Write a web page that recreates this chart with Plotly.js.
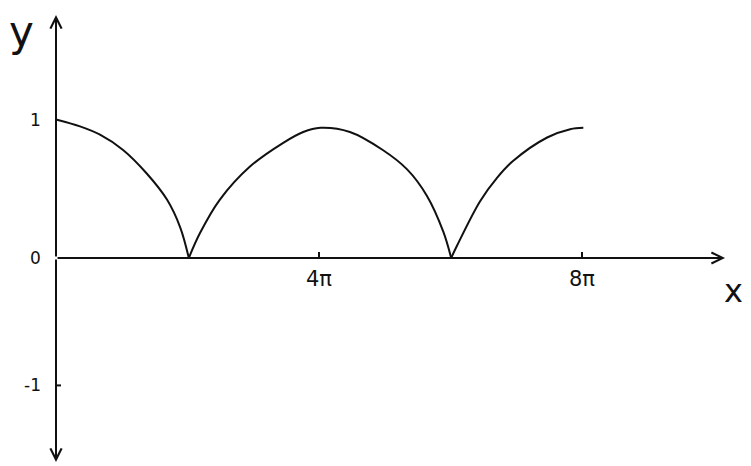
<!DOCTYPE html>
<html>
<head>
<meta charset="utf-8">
<script src="https://cdn.plot.ly/plotly-3.0.1.min.js"></script>
<style>html,body{margin:0;padding:0;background:#fff;}#chart{width:751px;height:466px;}</style>
</head>
<body>
<div id="chart"></div>
<script>
// x values in multiples of pi
var arch1X = [0, 0.365, 0.669, 1.02, 1.38, 1.69, 1.89, 2.02];
var arch1Y = [1.0, 0.95, 0.89, 0.78, 0.61, 0.42, 0.22, 0.0];
var arch2X = [2.02, 2.19, 2.49, 2.95, 3.45, 3.76, 4.02, 4.47, 4.97, 5.34, 5.64, 5.89, 6.01];
var arch2Y = [0.0, 0.18, 0.42, 0.66, 0.83, 0.91, 0.94, 0.91, 0.78, 0.64, 0.45, 0.19, 0.0];
var arch3X = [6.01, 6.10, 6.45, 6.71, 6.95, 7.47, 7.82, 8.02];
var arch3Y = [0.0, 0.09, 0.41, 0.58, 0.70, 0.87, 0.93, 0.94];

var xTickVals = [4, 8];
var xTickText = ['4π', '8π'];
var yTickVals = [1, 0, -0.92];
var yTickText = ['1', '0', '-1'];

var xEnd = 10.175, yTop = 1.755, yBottom = -1.473;

var ink = '#111';
var lineStyle = {color: ink, width: 2, shape: 'spline', smoothing: 1};
var traces = [[arch1X, arch1Y], [arch2X, arch2Y], [arch3X, arch3Y]].map(function (a) {
  return {x: a[0], y: a[1], mode: 'lines', line: lineStyle, hoverinfo: 'skip', showlegend: false};
});

var fam = 'DejaVu Sans';
var annotations = [];
function axisArrow(x, y) {
  return {x: x, y: y, ax: 0, ay: 0, axref: 'x', ayref: 'y', xref: 'x', yref: 'y', text: '', showarrow: true,
          arrowhead: 5, arrowsize: 1.1, arrowwidth: 2, arrowcolor: ink};
}
annotations.push(axisArrow(xEnd, 0));
annotations.push(axisArrow(0, yTop));
annotations.push(axisArrow(0, yBottom));

xTickVals.forEach(function (v, i) {
  annotations.push({x: v, y: 0, xref: 'x', yref: 'y', text: xTickText[i], showarrow: false, yanchor: 'top', yshift: -7,
                    font: {family: fam, color: ink, size: 21}});
});
yTickVals.forEach(function (v, i) {
  annotations.push({x: 0, y: v, xref: 'x', yref: 'y', text: yTickText[i], showarrow: false, xanchor: 'right', xshift: -13,
                    font: {family: fam, color: ink, size: 17}});
});
annotations.push({x: 0, y: yTop, xref: 'x', yref: 'y', text: 'y', showarrow: false, xanchor: 'right', yanchor: 'top', xshift: -20, yshift: 10,
                  font: {family: fam, color: ink, size: 42}});
annotations.push({x: xEnd, y: 0, xref: 'x', yref: 'y', text: 'x', showarrow: false, xanchor: 'center', yanchor: 'top', xshift: 8, yshift: -12,
                  font: {family: fam, color: ink, size: 32}});

var shapes = [];
xTickVals.forEach(function (v) {
  shapes.push({type: 'line', xref: 'x', yref: 'y', x0: v, x1: v, ysizemode: 'pixel', yanchor: 0, y0: 0, y1: 6, line: {color: ink, width: 2}});
});
shapes.push({type: 'line', xref: 'x', yref: 'y', xsizemode: 'pixel', xanchor: 0, x0: 0, x1: 5, y0: yTickVals[2], y1: yTickVals[2], line: {color: ink, width: 2}});

var layout = {
  width: 751, height: 466,
  margin: {l: 0, r: 0, t: 0, b: 0},
  paper_bgcolor: '#fff', plot_bgcolor: '#fff',
  xaxis: {range: [-0.8517, 10.570], visible: false, fixedrange: true},
  yaxis: {range: [-1.5018, 1.8628], visible: false, fixedrange: true},
  annotations: annotations,
  shapes: shapes,
  showlegend: false
};
Plotly.newPlot('chart', traces, layout, {displayModeBar: false, staticPlot: true});
</script>
</body>
</html>
